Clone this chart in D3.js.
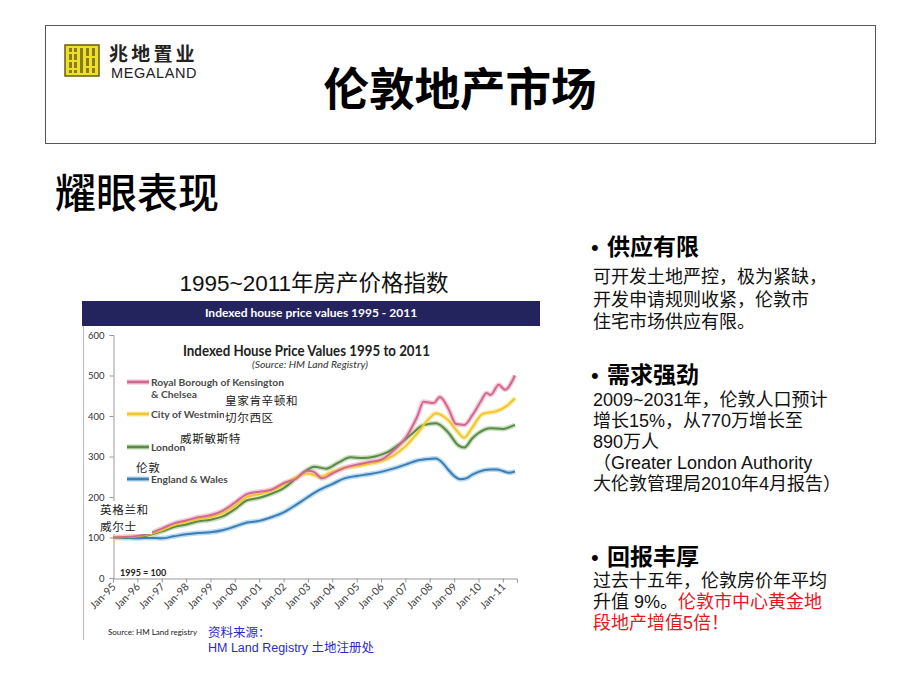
<!DOCTYPE html>
<html><head><meta charset="utf-8">
<script src="https://cdn.jsdelivr.net/npm/d3@7"></script>
<style>body{margin:0;background:#fff}svg{display:block}</style>
</head><body>
<svg id="c" width="920" height="690"></svg>
<script>
// ---------- DATA ----------
const seriesNames = ["Royal Borough of Kensington", "City of Westminster", "London", "England & Wales"];
const kensington = [["1995-01",100],["1995-07",101],["1996-01",104],["1996-07",110],["1997-01",122],["1997-07",135],["1998-01",142],["1998-07",150],["1999-01",155],["1999-07",166],["2000-01",186],["2000-07",207],["2001-01",213],["2001-07",218],["2002-01",234],["2002-07",245],["2003-01",265],["2003-04",262],["2003-08",246],["2004-01",258],["2004-07",272],["2005-01",280],["2005-07",286],["2006-01",292],["2006-07",314],["2007-01",345],["2007-07",400],["2007-10",435],["2008-03",432],["2008-06",447],["2008-10",420],["2009-02",380],["2009-06",378],["2009-10",402],["2010-02",435],["2010-05",457],["2010-07",452],["2010-11",477],["2011-02",465],["2011-07",500]];
const westminster = [["1995-01",100],["1995-07",101],["1996-01",103],["1996-07",108],["1997-01",118],["1997-07",130],["1998-01",138],["1998-07",145],["1999-01",150],["1999-07",160],["2000-01",178],["2000-07",200],["2001-01",207],["2001-07",215],["2002-01",230],["2002-07",248],["2003-01",258],["2003-07",250],["2004-01",262],["2004-07",272],["2005-01",276],["2005-07",282],["2006-01",288],["2006-07",302],["2007-01",325],["2007-07",358],["2008-01",395],["2008-04",407],["2008-10",390],["2009-03",360],["2009-06",346],["2009-10",372],["2010-03",405],["2010-10",412],["2011-03",425],["2011-07",444]];
const london = [["1995-01",100],["1995-07",100],["1996-01",101],["1996-07",106],["1997-01",115],["1997-07",126],["1998-01",132],["1998-07",140],["1999-01",144],["1999-07",152],["2000-01",170],["2000-07",192],["2001-01",198],["2001-07",208],["2002-01",222],["2002-07",245],["2003-01",268],["2003-04",275],["2003-10",270],["2004-04",285],["2004-10",298],["2005-04",296],["2005-10",300],["2006-04",310],["2006-10",330],["2007-04",355],["2007-10",378],["2008-04",382],["2008-10",360],["2009-03",328],["2009-06",322],["2009-10",345],["2010-01",358],["2010-07",370],["2011-01",368],["2011-04",372],["2011-07",378]];
const englandWales = [["1995-01",100],["1995-07",99],["1996-01",98],["1996-07",99],["1997-01",98],["1997-07",103],["1998-01",108],["1998-07",111],["1999-01",113],["1999-07",118],["2000-01",127],["2000-07",137],["2001-01",141],["2001-07",150],["2002-01",162],["2002-07",180],["2003-01",200],["2003-07",218],["2004-01",232],["2004-07",246],["2005-01",252],["2005-07",256],["2006-01",262],["2006-07",270],["2007-01",280],["2007-07",290],["2008-01",294],["2008-04",295],["2008-07",286],["2008-10",268],["2009-01",252],["2009-04",244],["2009-07",246],["2009-10",255],["2010-01",262],["2010-07",268],["2010-10",268],["2011-01",264],["2011-04",260],["2011-07",263]];
const yTicks = [0,100,200,300,400,500,600];
const xDomain = ["1995-01","2011-08"];

const title = "伦敦地产市场";
const subtitle = "耀眼表现";
const chartCaption = "1995~2011年房产价格指数";
const bannerTitle = "Indexed house price values 1995 - 2011";
const innerTitle = "Indexed House Price Values 1995 to 2011";
const innerSource = "(Source: HM Land Registry)";
const baseNote = "1995 = 100";
const footSource = "Source: HM Land registry";
const cnSource = ["资料来源：", "HM Land Registry 土地注册处"];
const bullets = [
  {head:"供应有限", lines:[["可开发土地严控，极为紧缺，"],["开发申请规则收紧，伦敦市"],["住宅市场供应有限。"]]},
  {head:"需求强劲", lines:[["2009~2031年，伦敦人口预计"],["增长15%，从770万增长至"],["890万人"],["（Greater London Authority"],["大伦敦管理局2010年4月报告）"]]},
  {head:"回报丰厚", lines:[["过去十五年，伦敦房价年平均"],["升值 9%。","伦敦市中心黄金地"],["","段地产增值5倍！"]]}
];

// ---------- DRAW ----------
const svg = d3.select("#c");
const SANS = "'Liberation Sans', Arial, 'Noto Sans CJK SC', sans-serif";
const CJK = "'Noto Sans CJK SC', sans-serif";
const LAT = "Lato, 'Liberation Sans', sans-serif";

// header box
svg.append("rect").attr("x",45.5).attr("y",25.5).attr("width",830).attr("height",118)
  .attr("fill","#fff").attr("stroke","#555").attr("stroke-width",1);

// logo
const logo = svg.append("g");
logo.append("rect").attr("x",65).attr("y",45).attr("width",34).attr("height",31).attr("fill","#ece02a").attr("stroke","#6b5a12").attr("stroke-width",1.5);
[[69,48,3,25],[74,48,3,25],[80,48,3,25],[86,48,3,25],[92,48,3,25]].forEach(r=>{
  logo.append("rect").attr("x",r[0]).attr("y",r[1]).attr("width",r[2]).attr("height",r[3]).attr("fill","#7a6a18").attr("opacity",0.85);
});
[[67,52,10,2],[67,60,10,2],[67,68,10,2],[86,56,11,2],[86,66,11,2]].forEach(r=>{
  logo.append("rect").attr("x",r[0]).attr("y",r[1]).attr("width",r[2]).attr("height",r[3]).attr("fill","#ece02a");
});
logo.append("text").attr("x",109).attr("y",61).attr("font-family",CJK).attr("font-weight",700)
  .attr("font-size",19).attr("letter-spacing",3.2).attr("fill","#222").text("兆地置业");
logo.append("text").attr("x",111).attr("y",78).attr("font-family",SANS)
  .attr("font-size",14.5).attr("letter-spacing",0.6).attr("fill","#222").text("MEGALAND");

// titles
svg.append("text").attr("x",460).attr("y",106).attr("text-anchor","middle").attr("font-family",CJK)
  .attr("font-weight",700).attr("font-size",45.5).attr("fill","#000").text(title);
svg.append("text").attr("x",55).attr("y",208).attr("font-family",CJK)
  .attr("font-weight",500).attr("font-size",41).attr("fill","#000").text(subtitle);
svg.append("text").attr("x",314).attr("y",291).attr("text-anchor","middle").attr("font-family",SANS)
  .attr("font-size",22.5).attr("fill","#111").text(chartCaption);

// chart image frame
svg.append("rect").attr("x",82).attr("y",301).attr("width",458).attr("height",25).attr("fill","#23235e");
svg.append("text").attr("x",311).attr("y",317).attr("text-anchor","middle").attr("font-family",LAT)
  .attr("font-weight",700).attr("font-size",12).attr("fill","#fff").text(bannerTitle);
svg.append("line").attr("x1",83.5).attr("x2",83.5).attr("y1",326).attr("y2",640).attr("stroke","#bbb");

// scales
const parse = d3.timeParse("%Y-%m");
const x = d3.scaleTime().domain(xDomain.map(parse)).range([113,517]);
const y = d3.scaleLinear().domain([0,600]).range([578,335]);

// axes
const yAxis = svg.append("g").attr("transform","translate(113.5,0)")
  .call(d3.axisLeft(y).tickValues(yTicks).tickSize(4).tickPadding(5));
const xAxis = svg.append("g").attr("transform","translate(0,578.5)")
  .call(d3.axisBottom(x).ticks(d3.timeYear.every(1)).tickFormat(d3.timeFormat("%b-%y")).tickSize(4).tickPadding(3));
[yAxis,xAxis].forEach(a=>{
  a.select(".domain").attr("stroke","#999");
  a.selectAll(".tick line").attr("stroke","#999");
  a.selectAll("text").attr("font-family",LAT).attr("font-size",9.5).attr("fill","#333");
});
xAxis.selectAll("text").attr("text-anchor","end").attr("dy",0).attr("y",0).attr("font-size",10.5).attr("fill","#3a3a3a")
  .attr("transform","translate(3,9) rotate(-45)");

// inner titles
svg.append("text").attr("x",183).attr("y",356).attr("font-family",LAT).attr("font-weight",700)
  .attr("font-size",15).attr("fill","#222").attr("textLength",247).attr("lengthAdjust","spacingAndGlyphs").text(innerTitle);
svg.append("text").attr("x",252).attr("y",368).attr("font-family",LAT).attr("font-style","italic")
  .attr("font-size",9.5).attr("fill","#333").attr("textLength",116).attr("lengthAdjust","spacingAndGlyphs").text(innerSource);

// series lines
const series = [
  {name:seriesNames[3], data:englandWales, core:"#3c7db3", halo:"#a9d2ef"},
  {name:seriesNames[2], data:london, core:"#5a8a4a", halo:"#bcd6ad"},
  {name:seriesNames[1], data:westminster, core:"#f0c62e", halo:"#fbe79a"},
  {name:seriesNames[0], data:kensington, core:"#d0698f", halo:"#f3bcd0"}
];
const line = d3.line().x(d=>x(parse(d[0]))).y(d=>y(d[1])).curve(d3.curveMonotoneX);
series.forEach(s=>{
  svg.append("path").datum(s.data).attr("d",line).attr("fill","none").attr("stroke",s.halo).attr("stroke-width",5).attr("stroke-linejoin","round").attr("opacity",0.8);
});
series.forEach(s=>{
  svg.append("path").datum(s.data).attr("d",line).attr("fill","none").attr("stroke",s.core).attr("stroke-width",2).attr("stroke-linejoin","round");
});

// legend
const legend = [
  {lines:["Royal Borough of Kensington","& Chelsea"], y:382, s:series[3]},
  {lines:["City of Westminster"], y:414, s:series[2]},
  {lines:["London"], y:447, s:series[1]},
  {lines:["England & Wales"], y:479, s:series[0]}
];
legend.forEach(l=>{
  svg.append("line").attr("x1",127).attr("x2",149).attr("y1",l.y).attr("y2",l.y).attr("stroke",l.s.halo).attr("stroke-width",5);
  svg.append("line").attr("x1",127).attr("x2",149).attr("y1",l.y).attr("y2",l.y).attr("stroke",l.s.core).attr("stroke-width",2.5);
  const t = svg.append("text").attr("x",151).attr("y",l.y+4).attr("font-family",LAT).attr("font-weight",700)
      .attr("font-size",10.3).attr("fill","#4a4a4a");
  l.lines.forEach((s,i)=>t.append("tspan").attr("x",151).attr("dy",i?11.5:0).text(s));
});

// chinese annotations
const annot = [
  {x:225, y:405, t:["皇家肯辛顿和","切尔西区"], bg:[224,393,82,31]},
  {x:180, y:443, t:["威斯敏斯特"]},
  {x:136, y:472, t:["伦敦"]},
  {x:100, y:514, t:["英格兰和","威尔士"], bg:[99,501,53,33]}
];
annot.forEach(a=>{
  if(a.bg) svg.append("rect").attr("x",a.bg[0]).attr("y",a.bg[1]).attr("width",a.bg[2]).attr("height",a.bg[3]).attr("fill","#fff");
  a.t.forEach((s,i)=>svg.append("text").attr("x",a.x).attr("y",a.y+i*16.8).attr("font-family",CJK)
    .attr("font-size",11.6).attr("letter-spacing",0.6).attr("fill","#222").text(s));
});

svg.append("text").attr("x",120).attr("y",576).attr("font-family",LAT).attr("font-weight",700)
  .attr("font-size",9).attr("fill","#222").text(baseNote);
svg.append("text").attr("x",108).attr("y",635).attr("font-family",LAT)
  .attr("font-size",8).attr("fill","#222").text(footSource);
svg.append("text").attr("x",208).attr("y",637).attr("font-family",CJK)
  .attr("font-size",12.5).attr("fill","#2a2ad0").text(cnSource[0]);
svg.append("text").attr("x",208).attr("y",652).attr("font-family",SANS)
  .attr("font-size",12.5).attr("fill","#2a2ad0").text(cnSource[1]);

// right column
const heads = [255, 383, 565];
const bodyStart = [283, 406, 587];
const lineGap = [22.5, 21, 21];
bullets.forEach((b,i)=>{
  svg.append("text").attr("x",591).attr("y",heads[i]).attr("font-family",SANS).attr("font-size",22).attr("fill","#000").text("•");
  svg.append("text").attr("x",607).attr("y",heads[i]).attr("font-family",CJK).attr("font-weight",700)
    .attr("font-size",23).attr("fill","#000").text(b.head);
  b.lines.forEach((ln,j)=>{
    const t = svg.append("text").attr("x",593).attr("y",bodyStart[i]+j*lineGap[i]).attr("font-family",SANS)
      .attr("font-size",18).attr("fill","#111");
    t.append("tspan").text(ln[0]);
    if(ln[1]) t.append("tspan").attr("fill","#e8161c").text(ln[1]);
  });
});
</script>
</body></html>
